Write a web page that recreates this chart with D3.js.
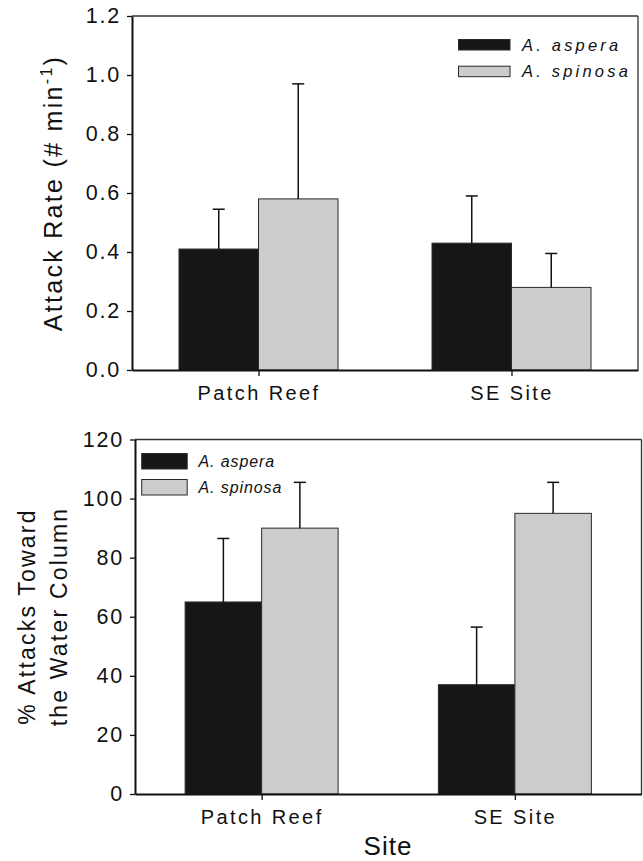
<!DOCTYPE html>
<html>
<head>
<meta charset="utf-8">
<script src="https://cdn.jsdelivr.net/npm/d3@7"></script>
<style>
  html, body { margin: 0; padding: 0; background: #fff; }
  svg { display: block; }
  text { font-family: "Liberation Sans", Arial, Helvetica, sans-serif; fill: #111; }
</style>
</head>
<body>
<svg id="chart" width="643" height="861"></svg>
<script>
// Sites and species
const sites = ["Patch Reef", "SE Site"];
const species = ["A. aspera", "A. spinosa"];

// Attack rate (# per minute), mean and standard error
const rateAspera = [0.41, 0.43];
const rateAsperaErr = [0.135, 0.16];
const rateSpinosa = [0.58, 0.28];
const rateSpinosaErr = [0.39, 0.115];
const rateTicks = [0, 0.2, 0.4, 0.6, 0.8, 1.0, 1.2];

// Percentage of attacks toward the water column, mean and standard error
const pctAspera = [65, 37];
const pctAsperaErr = [21.5, 19.5];
const pctSpinosa = [90, 95];
const pctSpinosaErr = [15.5, 10.5];
const pctTicks = [0, 20, 40, 60, 80, 100, 120];

const fills = ["#161616", "#cccccc"];
const svg = d3.select("#chart");

function panel(opts) {
  const { left, right, top, bottom, yMax, ticks, fmt, means, errs, barW, legend } = opts;
  const g = svg.append("g");

  const x = d3.scalePoint().domain(sites).range([left, right]).padding(0.5);
  const xs = d3.scaleBand().domain(species).range([-barW, barW]);
  const y = d3.scaleLinear().domain([0, yMax]).range([bottom, top]);

  const rows = [];
  sites.forEach((s, i) => {
    species.forEach((sp, j) => {
      rows.push({ site: s, sp, j, v: means[j][i], e: errs[j][i] });
    });
  });

  // bars
  g.selectAll("rect.bar").data(rows).join("rect")
    .attr("class", "bar")
    .attr("x", d => x(d.site) + xs(d.sp))
    .attr("width", xs.bandwidth())
    .attr("y", d => y(d.v))
    .attr("height", d => y(0) - y(d.v))
    .attr("fill", d => fills[d.j])
    .attr("stroke", "#2a2a2a")
    .attr("stroke-width", 1);

  // upper error bars
  const cx = d => x(d.site) + xs(d.sp) + xs.bandwidth() / 2;
  g.selectAll("line.err").data(rows).join("line")
    .attr("x1", cx).attr("x2", cx)
    .attr("y1", d => y(d.v)).attr("y2", d => y(d.v + d.e))
    .attr("stroke", "#111").attr("stroke-width", 1.5);
  g.selectAll("line.cap").data(rows).join("line")
    .attr("x1", d => cx(d) - 6).attr("x2", d => cx(d) + 6)
    .attr("y1", d => y(d.v + d.e)).attr("y2", d => y(d.v + d.e))
    .attr("stroke", "#111").attr("stroke-width", 1.5);

  // frame
  g.append("line").attr("x1", left).attr("x2", right).attr("y1", top).attr("y2", top)
    .attr("stroke", "#333").attr("stroke-width", 1.3);
  g.append("line").attr("x1", right).attr("x2", right).attr("y1", top).attr("y2", bottom)
    .attr("stroke", "#333").attr("stroke-width", 1.3);

  // y axis
  const ya = g.append("g").attr("transform", `translate(${left},0)`)
    .call(d3.axisLeft(y).tickValues(ticks).tickFormat(fmt).tickSize(5).tickSizeOuter(0).tickPadding(6));
  ya.select(".domain").attr("stroke", "#111").attr("stroke-width", 2);
  ya.selectAll(".tick line").attr("stroke", "#111").attr("stroke-width", 1.3);
  ya.selectAll(".tick text")
    .attr("font-size", 21.5).attr("letter-spacing", "1.8px")
    .attr("fill", "#111").style("font-family", "'Liberation Sans', Arial, sans-serif");

  // x axis
  const xa = g.append("g").attr("transform", `translate(0,${bottom})`)
    .call(d3.axisBottom(x).tickSize(6).tickSizeOuter(0).tickPadding(10));
  xa.select(".domain").attr("stroke", "#111").attr("stroke-width", 2);
  xa.selectAll(".tick line").attr("stroke", "#111").attr("stroke-width", 1.3);
  xa.selectAll(".tick text")
    .attr("font-size", 20).attr("letter-spacing", "2.4px").attr("dy", "0.71em")
    .attr("fill", "#111").style("font-family", "'Liberation Sans', Arial, sans-serif");

  // legend
  const lg = g.append("g");
  species.forEach((sp, j) => {
    lg.append("rect")
      .attr("x", legend.x).attr("y", legend.y + j * legend.gap)
      .attr("width", legend.w).attr("height", legend.h)
      .attr("fill", fills[j]).attr("stroke", "#2a2a2a").attr("stroke-width", 1);
    lg.append("text")
      .attr("x", legend.tx).attr("y", legend.y + j * legend.gap + legend.h / 2 + 6)
      .attr("font-size", legend.fs).attr("font-style", "italic")
      .attr("letter-spacing", legend.ls + "px")
      .text(sp);
  });

  return { x, y };
}

// Top panel: attack rate
panel({
  left: 132, right: 638, top: 16, bottom: 370,
  yMax: 1.2, ticks: rateTicks, fmt: d3.format(".1f"),
  means: [rateAspera, rateSpinosa], errs: [rateAsperaErr, rateSpinosaErr],
  barW: 79.5,
  legend: { x: 458.5, y: 39.5, w: 51.5, h: 10.5, gap: 26.7, tx: 522, fs: 16.5, ls: 3.2 }
});

// Bottom panel: percentage of attacks toward the water column
panel({
  left: 135, right: 641.5, top: 439.5, bottom: 794,
  yMax: 120, ticks: pctTicks, fmt: d3.format("d"),
  means: [pctAspera, pctSpinosa], errs: [pctAsperaErr, pctSpinosaErr],
  barW: 76.5,
  legend: { x: 141.7, y: 453.5, w: 45.5, h: 15.5, gap: 26, tx: 198.5, fs: 16, ls: 0.9 }
});

// Axis titles
const t1 = svg.append("text")
  .attr("transform", "translate(62,193) rotate(-90)")
  .attr("text-anchor", "middle")
  .attr("font-size", 25).attr("letter-spacing", "2.3px");
t1.append("tspan").text("Attack Rate (# min");
t1.append("tspan").attr("font-size", 16).attr("dy", -10).text("-1");
t1.append("tspan").attr("dy", 10).text(")");

const t2 = svg.append("text")
  .attr("transform", "translate(0,616.5) rotate(-90)")
  .attr("text-anchor", "middle")
  .attr("font-size", 23).attr("letter-spacing", "2.2px");
t2.append("tspan").attr("x", 0).attr("y", 34.5).text("% Attacks Toward");
t2.append("tspan").attr("x", 0).attr("y", 66.5).text("the Water Column");

svg.append("text")
  .attr("x", 388).attr("y", 855)
  .attr("text-anchor", "middle")
  .attr("font-size", 26).attr("letter-spacing", "1px")
  .text("Site");
</script>
</body>
</html>
